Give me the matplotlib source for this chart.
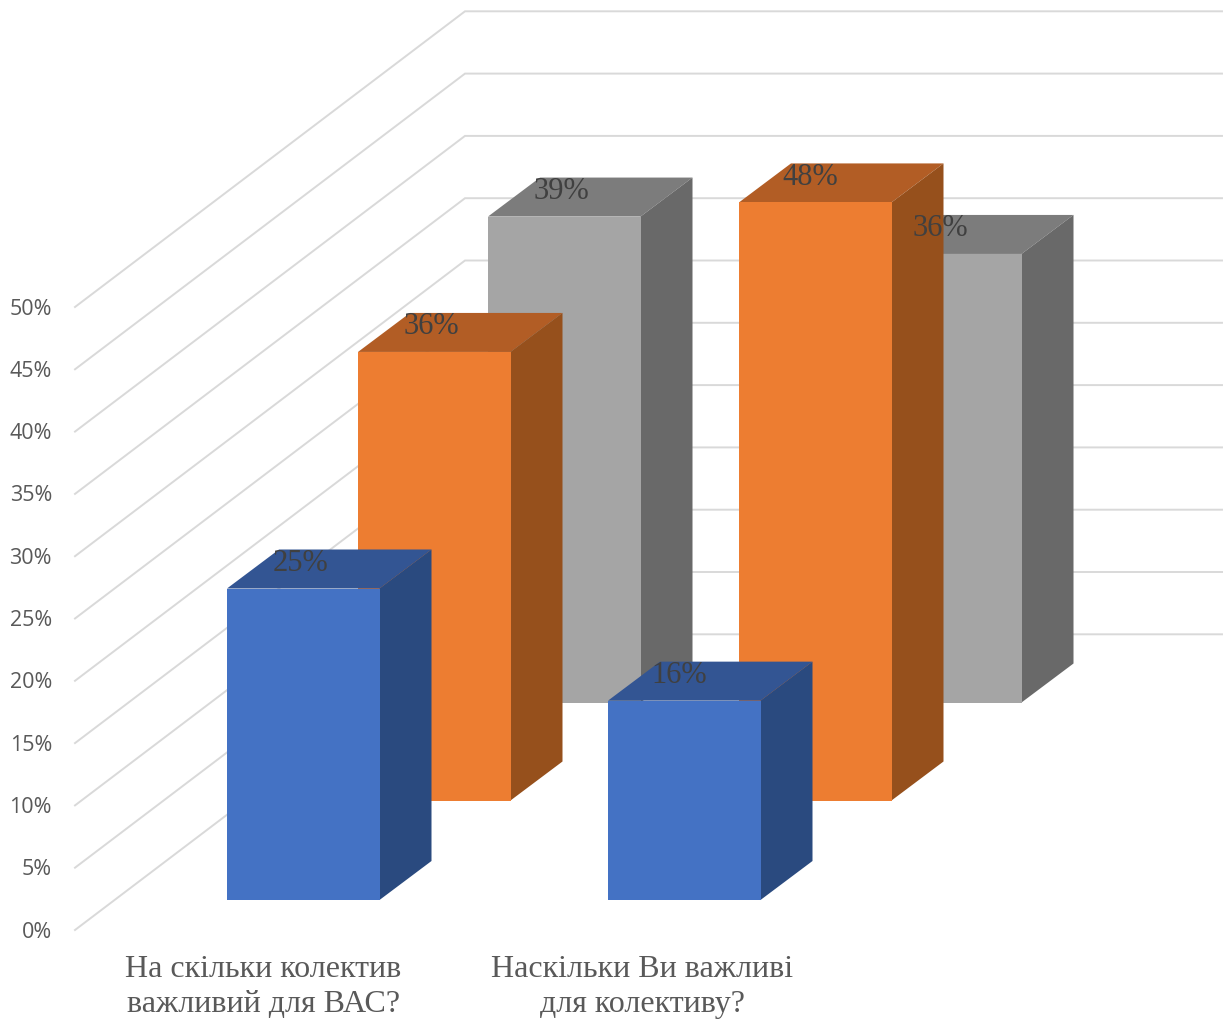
import matplotlib
matplotlib.use("Agg")
import matplotlib.pyplot as plt
from matplotlib.patches import Polygon

categories = ["На скільки колектив\nважливий для ВАС?", "Наскільки Ви важливі\nдля колективу?"]
blue_vals = [25, 16]
orange_vals = [36, 48]
grey_vals = [39, 36]
ticks = [0, 5, 10, 15, 20, 25, 30, 35, 40, 45, 50]
tick_labels = ["0%", "5%", "10%", "15%", "20%", "25%", "30%", "35%", "40%", "45%", "50%"]

# pixel layout of the fake 3d box
W, H = 1224, 1021
PX_PER_PCT = 12.46
BACK_FLOOR = 634.3
BACK_X = 465
FRONT_X = 75
FRONT_FLOOR = 930
BAR_W = 152.5
DEPTH_X, DEPTH_Y = 52, 39

# (values, left edge of first bar, floor y, front/top/side colours)
series = [
    (grey_vals, 488, 702.5, "#a5a5a5", "#7c7c7c", "#696969"),
    (orange_vals, 358, 800.5, "#ed7d31", "#b25d25", "#96501c"),
    (blue_vals, 227, 900, "#4472c4", "#335593", "#2a4a7f"),
]
GROUP_STEP = 381
LABEL_STEP = 379

fig = plt.figure(figsize=(W / 100, H / 100), dpi=100)
ax = fig.add_axes([0, 0, 1, 1])
ax.set_xlim(0, W)
ax.set_ylim(H, 0)
ax.axis("off")

# walls
for t, lab in zip(ticks, tick_labels):
    back_y = BACK_FLOOR - t * PX_PER_PCT
    front_y = FRONT_FLOOR - t * PX_PER_PCT
    ax.plot([FRONT_X, BACK_X, 1222], [front_y, back_y, back_y], color="#d9d9d9", lw=1.4, zorder=1,
            solid_joinstyle="miter")
    ax.text(52, front_y + 2, lab, ha="right", va="center", fontsize=15.5, color="#595959", family="Open Sans")

labels = []
for vals, x0, floor, c_front, c_top, c_side in series:
    for i, v in enumerate(vals):
        left = x0 + i * GROUP_STEP
        right = left + BAR_W
        top = floor - v * PX_PER_PCT
        ax.add_patch(Polygon([(left, top), (left + DEPTH_X, top - DEPTH_Y), (right + DEPTH_X, top - DEPTH_Y), (right, top)],
                             fc=c_top, ec="none", zorder=2))
        ax.add_patch(Polygon([(right, top), (right + DEPTH_X, top - DEPTH_Y), (right + DEPTH_X, floor - DEPTH_Y), (right, floor)],
                             fc=c_side, ec="none", zorder=2))
        ax.add_patch(Polygon([(left, top), (right, top), (right, floor), (left, floor)],
                             fc=c_front, ec="none", zorder=2))
        labels.append((x0 + i * LABEL_STEP + 73, top - 25, f"{v}%"))

# data labels sit over every bar
for x, y, s in labels:
    ax.text(x, y, s, ha="center", va="center", fontsize=22, color="#404040", family="Liberation Serif", zorder=5)

for x, lab in zip([263.5, 642], categories):
    ax.text(x, 987, lab, ha="center", va="center", fontsize=23, color="#595959", family="Liberation Serif",
            linespacing=1.3, zorder=5)

fig.savefig("out.png", dpi=100, facecolor="white")
